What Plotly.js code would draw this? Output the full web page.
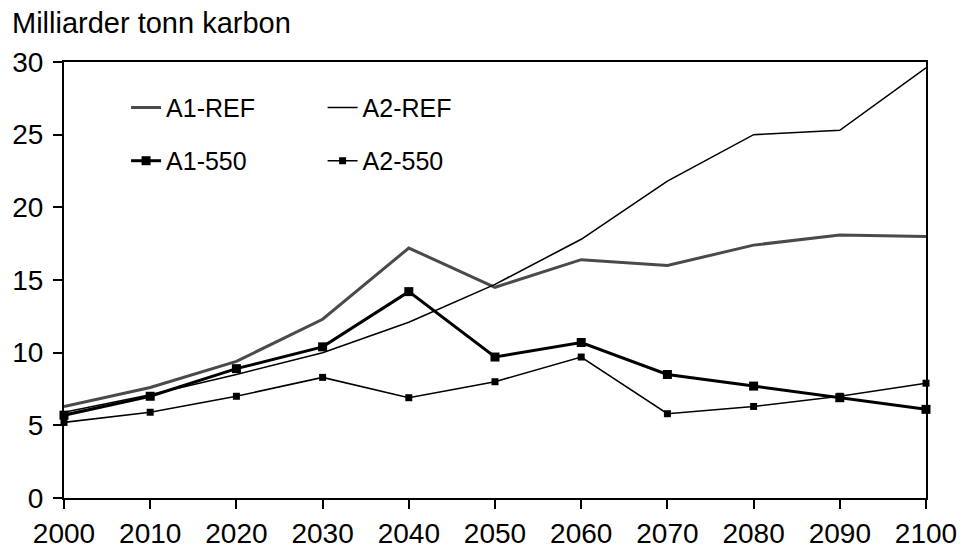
<!DOCTYPE html>
<html>
<head>
<meta charset="utf-8">
<script src="https://cdn.plot.ly/plotly-3.0.1.min.js"></script>
<style>
  html, body { margin: 0; padding: 0; background: #fff; }
  #chart { width: 960px; height: 550px; }
</style>
</head>
<body>
<div id="chart"></div>
<script>
// Carbon emission scenarios, billion tonnes of carbon per year
const years = [2000, 2010, 2020, 2030, 2040, 2050, 2060, 2070, 2080, 2090, 2100];
const a1Ref = [6.3, 7.6, 9.4, 12.3, 17.2, 14.5, 16.4, 16.0, 17.4, 18.1, 18.0];
const a2Ref = [5.9, 7.1, 8.5, 10.0, 12.1, 14.7, 17.8, 21.8, 25.0, 25.3, 29.6];
const a1_550 = [5.7, 7.0, 8.9, 10.4, 14.2, 9.7, 10.7, 8.5, 7.7, 6.9, 6.1];
const a2_550 = [5.2, 5.9, 7.0, 8.3, 6.9, 8.0, 9.7, 5.8, 6.3, 7.0, 7.9];
const seriesNames = ['A1-REF', 'A2-REF', 'A1-550', 'A2-550'];
const xTicks = [2000, 2010, 2020, 2030, 2040, 2050, 2060, 2070, 2080, 2090, 2100];
const yTicks = [0, 5, 10, 15, 20, 25, 30];

const FONT = 'Liberation Sans, Arial, sans-serif';

const traces = [
  {
    x: years, y: a1Ref, name: seriesNames[0], mode: 'lines', legend: 'legend',
    line: { color: '#4a4a4a', width: 3 }
  },
  {
    x: years, y: a2Ref, name: seriesNames[1], mode: 'lines', legend: 'legend2',
    line: { color: '#000', width: 1.6 }
  },
  {
    x: years, y: a1_550, name: seriesNames[2], mode: 'lines+markers', legend: 'legend3',
    line: { color: '#000', width: 3 },
    marker: { symbol: 'square', size: 9, color: '#000' }
  },
  {
    x: years, y: a2_550, name: seriesNames[3], mode: 'lines+markers', legend: 'legend4',
    line: { color: '#000', width: 1.6 },
    marker: { symbol: 'square', size: 7, color: '#000' }
  }
];

const legendBase = {
  bgcolor: 'rgba(0,0,0,0)',
  borderwidth: 0,
  font: { family: FONT, size: 25, color: '#000' },
  xanchor: 'left',
  yanchor: 'middle'
};

const layout = {
  width: 960,
  height: 550,
  margin: { l: 64, r: 34, t: 62, b: 52 },
  paper_bgcolor: '#fff',
  plot_bgcolor: '#fff',
  font: { family: FONT, size: 27, color: '#000' },
  title: {
    text: 'Milliarder tonn karbon',
    font: { family: FONT, size: 29, color: '#000' },
    xref: 'container', yref: 'container',
    x: 12 / 960, xanchor: 'left',
    y: 1 - 23 / 550, yanchor: 'middle'
  },
  xaxis: {
    range: [2000, 2100],
    tickvals: xTicks,
    ticktext: xTicks.map(String),
    ticks: 'outside', ticklen: 9, tickwidth: 2, tickcolor: '#000',
    showline: true, linecolor: '#000', linewidth: 2, mirror: true,
    showgrid: false, zeroline: false,
    tickfont: { family: FONT, size: 28, color: '#000' }
  },
  yaxis: {
    range: [0, 30],
    tickvals: yTicks,
    ticks: 'outside', ticklen: 9, tickwidth: 2, tickcolor: '#000',
    ticklabelstandoff: 4,
    showline: true, linecolor: '#000', linewidth: 2, mirror: true,
    showgrid: false, zeroline: false,
    tickfont: { family: FONT, size: 28, color: '#000' }
  },
  showlegend: true,
  legend: Object.assign({}, legendBase, { x: 0.072, y: 0.895 }),
  legend2: Object.assign({}, legendBase, { x: 0.3, y: 0.895 }),
  legend3: Object.assign({}, legendBase, { x: 0.072, y: 0.773 }),
  legend4: Object.assign({}, legendBase, { x: 0.3, y: 0.773 })
};

traces.forEach(t => { t.cliponaxis = false; });

Plotly.newPlot('chart', traces, layout, { staticPlot: true, displayModeBar: false });
</script>
</body>
</html>
